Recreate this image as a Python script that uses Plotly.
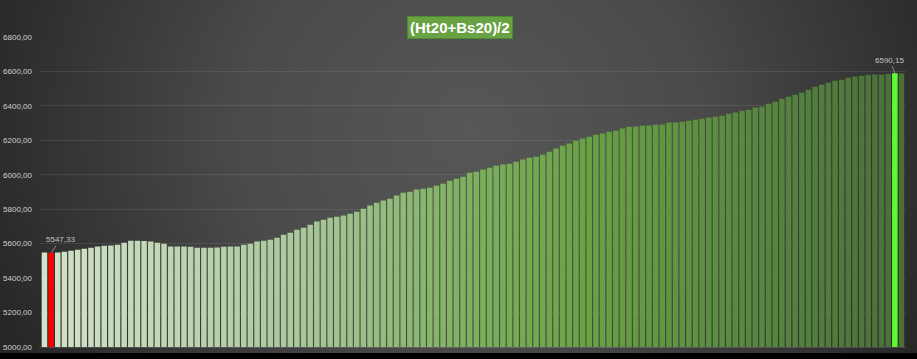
import base64
import plotly.graph_objects as go

# ---------------- data ----------------
categories = list(range(1, 131))
values = [
    5548, 5547.33, 5549, 5553, 5559, 5565, 5571, 5577, 5583, 5588,
    5589, 5594, 5606, 5617, 5617, 5616, 5612, 5606, 5600, 5583,
    5583, 5583, 5582, 5577, 5577, 5577, 5578, 5582, 5583, 5583,
    5594, 5600, 5612, 5617, 5623, 5635, 5652, 5664, 5681, 5693,
    5710, 5728, 5739, 5751, 5757, 5763, 5774, 5786, 5803, 5821,
    5838, 5850, 5861, 5879, 5896, 5902, 5914, 5919, 5925, 5937,
    5948, 5966, 5977, 5989, 6012, 6018, 6030, 6041, 6053, 6059,
    6064, 6076, 6088, 6099, 6105, 6117, 6134, 6152, 6169, 6181,
    6198, 6210, 6221, 6233, 6239, 6250, 6256, 6268, 6279, 6280,
    6285, 6286, 6291, 6292, 6303, 6304, 6308, 6314, 6320, 6326,
    6332, 6337, 6343, 6355, 6361, 6372, 6378, 6390, 6395, 6413,
    6424, 6442, 6453, 6465, 6477, 6494, 6511, 6523, 6535, 6546,
    6552, 6564, 6570, 6575, 6581, 6582, 6582, 6587, 6590.15, 6588,
]
title_text = "(Ht20+Bs20)/2"
min_label = "5547,33"
max_label = "6590,15"
y_ticks = [5000, 5200, 5400, 5600, 5800, 6000, 6200, 6400, 6600, 6800]

# ---------------- styling ----------------
n = len(values)
min_idx = values.index(min(values))
max_idx = values.index(max(values))

anchors = [(0.0, "#d3e2ca"), (0.30, "#a9c89a"), (0.48, "#80b361"),
           (0.64, "#67a241"), (0.78, "#5b8e40"), (1.0, "#4a7038")]


def hex2rgb(h):
    h = h.lstrip("#")
    return [int(h[i:i + 2], 16) for i in (0, 2, 4)]


def interp(t):
    for (t0, c0), (t1, c1) in zip(anchors[:-1], anchors[1:]):
        if t0 <= t <= t1:
            f = (t - t0) / (t1 - t0) if t1 > t0 else 0
            a, b = hex2rgb(c0), hex2rgb(c1)
            r = [round(a[k] + (b[k] - a[k]) * f) for k in range(3)]
            return "rgb(%d,%d,%d)" % tuple(r)
    return anchors[-1][1]


colors = [interp(i / (n - 1)) for i in range(n)]
colors[min_idx] = "#ff0000"
colors[max_idx] = "#5dfc2e"

# background radial gradient as inline SVG
W, H = 917, 353
svg = f'''<svg xmlns="http://www.w3.org/2000/svg" width="{W}" height="{H}" viewBox="0 0 {W} {H}" preserveAspectRatio="none">
<defs><radialGradient id="g" gradientUnits="userSpaceOnUse" cx="470" cy="130" r="520" gradientTransform="translate(470 130) scale(1 0.9) translate(-470 -130)">
<stop offset="0" stop-color="#575757"/><stop offset="0.45" stop-color="#4a4a4a"/><stop offset="1" stop-color="#262626"/>
</radialGradient></defs>
<rect x="0" y="0" width="{W}" height="{H}" fill="url(#g)"/></svg>'''
src = "data:image/svg+xml;base64," + base64.b64encode(svg.encode()).decode()

L, R, T, B = 39, 11, 37, 12
pw = 917 - L - R
ph = 359 - T - B

fig = go.Figure()
fig.add_trace(go.Bar(
    x=[i for i in range(n)], y=values,
    marker=dict(color=colors, line=dict(width=0)),
    hoverinfo="y", showlegend=False,
))

fig.add_annotation(x=min_idx, y=values[min_idx], text=min_label, showarrow=True,
                   arrowhead=0, arrowwidth=1, arrowcolor="#8c8c8c", ax=9, ay=-13,
                   font=dict(family="Liberation Sans", size=8, color="#c4c4c4"))
fig.add_annotation(x=max_idx, y=values[max_idx], text=max_label, showarrow=True,
                   arrowhead=0, arrowwidth=1, arrowcolor="#8c8c8c", ax=-5, ay=-13,
                   font=dict(family="Liberation Sans", size=8, color="#c4c4c4"))
fig.add_annotation(xref="paper", yref="paper", x=(460 - L) / pw, y=(359 - B - 28) / ph,
                   text="<b>" + title_text + "</b>", showarrow=False,
                   font=dict(family="Liberation Sans", size=15, color="#ffffff"),
                   bgcolor="#68a242", bordercolor="#4e8a34", borderwidth=1, borderpad=2,
                   xanchor="center", yanchor="middle")

fig.add_layout_image(dict(
    source=src, xref="paper", yref="paper",
    x=-L / pw, y=(359 - B) / ph, sizex=917 / pw, sizey=H / ph,
    xanchor="left", yanchor="top", sizing="stretch", layer="below",
))

fig.update_layout(
    width=917, height=359,
    margin=dict(l=L, r=R, t=T, b=B, autoexpand=False),
    paper_bgcolor="#000000", plot_bgcolor="rgba(0,0,0,0)",
    bargap=0.17, separators=",.",
    xaxis=dict(range=[-0.82, n - 1 + 0.68], showticklabels=False, showgrid=False,
               zeroline=False, showline=True, linecolor="rgba(255,255,255,0.14)", linewidth=1,
               fixedrange=True, automargin=False),
    yaxis=dict(range=[5000, 6800], tickvals=y_ticks, tickformat=".2f",
               showgrid=True, gridcolor="rgba(255,255,255,0.09)", gridwidth=1,
               zeroline=False, showline=False, ticks="", ticklabelstandoff=6,
               tickfont=dict(family="Liberation Sans", size=8, color="#cfcfcf"),
               fixedrange=True, automargin=False),
)

fig.write_html("out.html", config={"displayModeBar": False},
               post_script="document.body.style.margin='0';document.body.style.overflow='hidden';")
